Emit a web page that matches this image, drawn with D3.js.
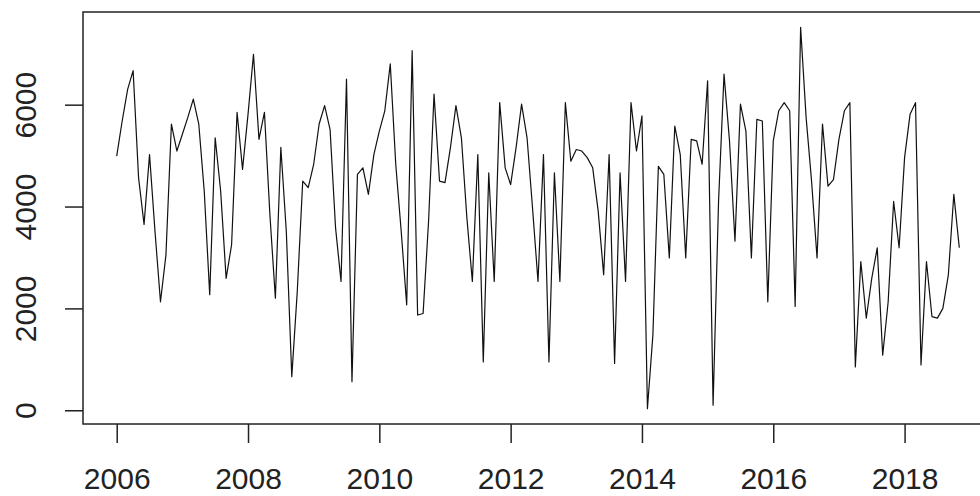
<!DOCTYPE html>
<html>
<head>
<meta charset="utf-8">
<script src="https://cdn.jsdelivr.net/npm/d3@7"></script>
<style>
  body { margin: 0; background: #fff; }
  text { font-family: "Liberation Sans", Arial, sans-serif; fill: #222; }
</style>
</head>
<body>
<svg id="chart"></svg>
<script>
// monthly series, starts Jan 2006
var startYear = 2006,
    frequency = 12;

var values = [
  4990, 5680, 6300, 6670, 4560, 3650, 5020, 3510, 2130, 3050, 5620, 5090,
  5420, 5750, 6110, 5620, 4300, 2270, 5350, 4300, 2590, 3250, 5850, 4730,
  5810, 6990, 5320, 5850, 3840, 2200, 5160, 3510, 660, 2330, 4500, 4370,
  4830, 5620, 5980, 5510, 3580, 2530, 6500, 560, 4630, 4760, 4240, 5020,
  5480, 5880, 6800, 4830, 3510, 2070, 7060, 1870, 1900, 3710, 6210, 4500,
  4470, 5160, 5980, 5350, 3780, 2530, 5020, 950, 4660, 2530, 6040, 4760,
  4430, 5160, 6010, 5350, 3970, 2530, 5020, 950, 4660, 2530, 6040, 4890,
  5120, 5090, 4960, 4760, 3910, 2660, 5020, 920, 4660, 2530, 6040, 5090,
  5780, 30, 1480, 4790, 4630, 2990, 5580, 5020, 2990, 5320, 5290, 4830,
  6470, 100, 4100, 6600, 5290, 3320, 6010, 5480, 2990, 5710, 5680, 2130,
  5290, 5880, 6040, 5880, 2040, 7520, 5750, 4500, 2990, 5620, 4400, 4530,
  5320, 5880, 6040, 850, 2920, 1810, 2590, 3190, 1080, 2130, 4100, 3190,
  4960, 5810, 6040, 890, 2920, 1840, 1810, 2000, 2660, 4240, 3190
];

var xTicks = [2006, 2008, 2010, 2012, 2014, 2016, 2018];
var yTicks = [0, 2000, 4000, 6000];

var W = 980, H = 496;
var plot = { left: 83, top: 12, right: 993, bottom: 424 };

var svg = d3.select('#chart')
    .attr('width', W)
    .attr('height', H);

var series = values.map(function(v, i) {
    return { t: startYear + i / frequency, v: v };
});

// R style 4% padding on both axes
var tExt = d3.extent(series, function(d) { return d.t; });
var vExt = d3.extent(series, function(d) { return d.v; });
var tPad = (tExt[1] - tExt[0]) * 0.04,
    vPad = (vExt[1] - vExt[0]) * 0.04;

var x = d3.scaleLinear()
    .domain([tExt[0] - tPad, tExt[1] + tPad])
    .range([plot.left, plot.right]);

var y = d3.scaleLinear()
    .domain([vExt[0] - vPad, vExt[1] + vPad])
    .range([plot.bottom, plot.top]);

// series
var line = d3.line()
    .x(function(d) { return x(d.t); })
    .y(function(d) { return y(d.v); });

svg.append('path')
    .datum(series)
    .attr('d', line)
    .attr('fill', 'none')
    .attr('stroke', '#111')
    .attr('stroke-width', 1.2)
    .attr('stroke-linejoin', 'round');

// box
svg.append('rect')
    .attr('x', plot.left)
    .attr('y', plot.top)
    .attr('width', plot.right - plot.left)
    .attr('height', plot.bottom - plot.top)
    .attr('fill', 'none')
    .attr('stroke', '#222')
    .attr('stroke-width', 1.5);

// x axis
var xAxis = d3.axisBottom(x)
    .tickValues(xTicks)
    .tickFormat(d3.format('d'))
    .tickSize(19)
    .tickPadding(25);

var gx = svg.append('g')
    .attr('transform', 'translate(0,' + plot.bottom + ')')
    .call(xAxis);
gx.select('.domain').remove();
gx.selectAll('.tick line').attr('stroke', '#222').attr('stroke-width', 1.5);
gx.selectAll('.tick text')
    .attr('font-size', 30)
    .attr('fill', '#222');

// y axis, labels rotated like R
var yAxis = d3.axisLeft(y)
    .tickValues(yTicks)
    .tickFormat(d3.format('d'))
    .tickSize(18);

var gy = svg.append('g')
    .attr('transform', 'translate(' + plot.left + ',0)')
    .call(yAxis);
gy.select('.domain').remove();
gy.selectAll('.tick line').attr('stroke', '#222').attr('stroke-width', 1.5);
gy.selectAll('.tick text')
    .attr('x', null)
    .attr('dy', null)
    .attr('font-size', 30)
    .attr('fill', '#222')
    .attr('text-anchor', 'middle')
    .attr('transform', 'translate(-47,0) rotate(-90)');
</script>
</body>
</html>
